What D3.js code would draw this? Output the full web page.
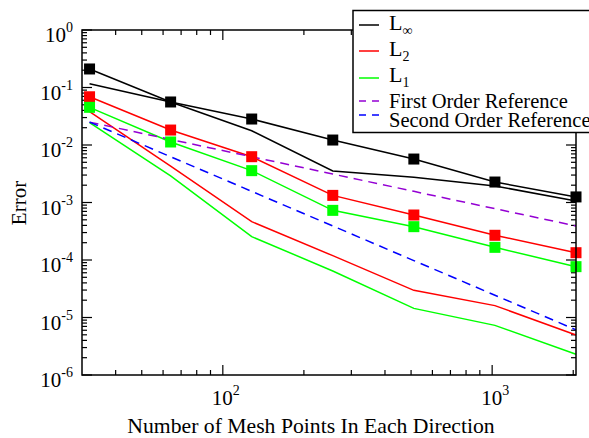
<!DOCTYPE html>
<html>
<head>
<meta charset="utf-8">
<script src="https://cdn.jsdelivr.net/npm/d3@7"></script>
<style>
  html, body { margin: 0; padding: 0; background: #fff; }
  svg { display: block; font-family: "Liberation Serif", "DejaVu Serif", serif; }
</style>
</head>
<body>
<svg id="chart" width="589" height="438"></svg>
<script>
// ---- data ----
const meshPoints = [32, 64, 128, 256, 512, 1024, 2048];
const linfMarked = [0.21, 0.056, 0.0283, 0.0122, 0.0057, 0.00227, 0.00125];
const linfLine   = [0.116, 0.056, 0.0177, 0.00353, 0.00274, 0.00194, 0.00106];
const l2Marked   = [0.069, 0.0182, 0.00626, 0.00133, 0.000606, 0.000269, 0.000134];
const l2Line     = [0.038, 0.0043, 0.000464, 0.000119, 2.97e-5, 1.61e-5, 4.96e-6];
const l1Marked   = [0.0452, 0.01128, 0.00358, 0.00073, 0.00038, 0.000166, 7.66e-5];
const l1Line     = [0.0244, 0.0029, 0.000255, 6.45e-5, 1.44e-5, 7.3e-6, 2.29e-6];
const firstOrderRef  = [0.025, 0.0125, 0.00625, 0.003125, 0.0015625, 0.00078125, 0.000390625];
const secondOrderRef = [0.025, 0.00625, 0.0015625, 0.000390625, 9.77e-5, 2.44e-5, 6.1e-6];

const xMajor = [100, 1000];
const xMajorExp = ["2", "3"];
const yMajor = [1, 0.1, 0.01, 0.001, 1e-4, 1e-5, 1e-6];
const yMajorExp = ["0", "-1", "-2", "-3", "-4", "-5", "-6"];

const legendItems = [
  { base: "L", sub: "\u221E", color: "#000000", dash: null },
  { base: "L", sub: "2", color: "#ff0000", dash: null },
  { base: "L", sub: "1", color: "#00ff00", dash: null },
  { base: "First Order Reference", sub: null, color: "#9400d3", dash: "7,6" },
  { base: "Second Order Reference", sub: null, color: "#0000ff", dash: "7,6" }
];

// ---- layout ----
const L = 82, R = 576, T = 30, B = 375;
const svg = d3.select("#chart");
const x = d3.scaleLog().domain([30, 2048]).range([L, R]);
const y = d3.scaleLog().domain([1e-6, 1]).range([B, T]);

const xMinor = x.ticks().filter(v => xMajor.indexOf(v) < 0 && v > 30);
const yMinor = y.ticks().filter(v => !yMajor.some(m => Math.abs(m - v) / v < 1e-6));

const axisG = svg.append("g").attr("stroke", "#000").attr("stroke-width", 1.2);
xMajor.forEach(v => {
  axisG.append("line").attr("x1", x(v)).attr("x2", x(v)).attr("y1", B).attr("y2", B - 10);
  axisG.append("line").attr("x1", x(v)).attr("x2", x(v)).attr("y1", T).attr("y2", T + 10);
});
xMinor.forEach(v => {
  axisG.append("line").attr("x1", x(v)).attr("x2", x(v)).attr("y1", B).attr("y2", B - 5);
  axisG.append("line").attr("x1", x(v)).attr("x2", x(v)).attr("y1", T).attr("y2", T + 5);
});
yMajor.forEach(v => {
  axisG.append("line").attr("y1", y(v)).attr("y2", y(v)).attr("x1", L).attr("x2", L + 10);
  axisG.append("line").attr("y1", y(v)).attr("y2", y(v)).attr("x1", R).attr("x2", R - 10);
});
yMinor.forEach(v => {
  axisG.append("line").attr("y1", y(v)).attr("y2", y(v)).attr("x1", L).attr("x2", L + 5);
  axisG.append("line").attr("y1", y(v)).attr("y2", y(v)).attr("x1", R).attr("x2", R - 5);
});

// ---- series ----
const line = d3.line().x((d, i) => x(meshPoints[i])).y(d => y(d));
const plotG = svg.append("g");
function drawLine(vals, color, dash) {
  plotG.append("path").datum(vals).attr("d", line)
    .attr("fill", "none").attr("stroke", color).attr("stroke-width", 1.5)
    .attr("stroke-dasharray", dash);
}
drawLine(linfMarked, "#000000", null);
drawLine(linfLine, "#000000", null);
drawLine(l2Marked, "#ff0000", null);
drawLine(l2Line, "#ff0000", null);
drawLine(l1Marked, "#00ff00", null);
drawLine(l1Line, "#00ff00", null);
drawLine(firstOrderRef, "#9400d3", "9,6");
drawLine(secondOrderRef, "#0000ff", "9,6");

function drawMarkers(vals, color) {
  plotG.selectAll(null).data(vals).enter().append("rect")
    .attr("x", (d, i) => x(meshPoints[i]) - 5.5)
    .attr("y", d => y(d) - 5.5)
    .attr("width", 11).attr("height", 11)
    .attr("fill", color);
}
drawMarkers(linfMarked, "#000000");
drawMarkers(l2Marked, "#ff0000");
drawMarkers(l1Marked, "#00ff00");

// frame
svg.append("rect").attr("x", L).attr("y", T).attr("width", R - L).attr("height", B - T)
  .attr("fill", "none").attr("stroke", "#000").attr("stroke-width", 1.5);

// ---- tick labels ----
yMajor.forEach((v, i) => {
  const t = svg.append("text").attr("x", 73).attr("y", y(v) + 12)
    .attr("text-anchor", "end").attr("font-size", 21).attr("fill", "#000");
  t.append("tspan").text("10");
  t.append("tspan").attr("dy", -10).attr("font-size", 14).text(yMajorExp[i]);
});
xMajor.forEach((v, i) => {
  const t = svg.append("text").attr("x", x(v) + 3).attr("y", 405)
    .attr("text-anchor", "middle").attr("font-size", 21).attr("fill", "#000");
  t.append("tspan").text("10");
  t.append("tspan").attr("dy", -10).attr("font-size", 14).text(xMajorExp[i]);
});

// axis titles
svg.append("text").attr("x", 311).attr("y", 433).attr("text-anchor", "middle")
  .attr("font-size", 21.7).text("Number of Mesh Points In Each Direction");
svg.append("text").attr("transform", "translate(26,203) rotate(-90)")
  .attr("text-anchor", "middle").attr("font-size", 21).text("Error");

// ---- legend ----
const lg = svg.append("g");
lg.append("rect").attr("x", 353).attr("y", 10.5).attr("width", 260).attr("height", 122)
  .attr("fill", "#fff").attr("stroke", "#000").attr("stroke-width", 1.5);
const rowLine = [25, 51, 78, 101, 115];
const rowText = [29.5, 55.5, 82, 108, 127];
legendItems.forEach((it, i) => {
  lg.append("line").attr("x1", 359).attr("x2", 379).attr("y1", rowLine[i]).attr("y2", rowLine[i])
    .attr("stroke", it.color).attr("stroke-width", 1.5).attr("stroke-dasharray", it.dash);
  const t = lg.append("text").attr("x", 389).attr("y", rowText[i]).attr("font-size", it.sub ? 22 : 20.5);
  t.append("tspan").text(it.base);
  if (it.sub) t.append("tspan").attr("dy", 5).attr("font-size", 14).text(it.sub);
});
</script>
</body>
</html>
